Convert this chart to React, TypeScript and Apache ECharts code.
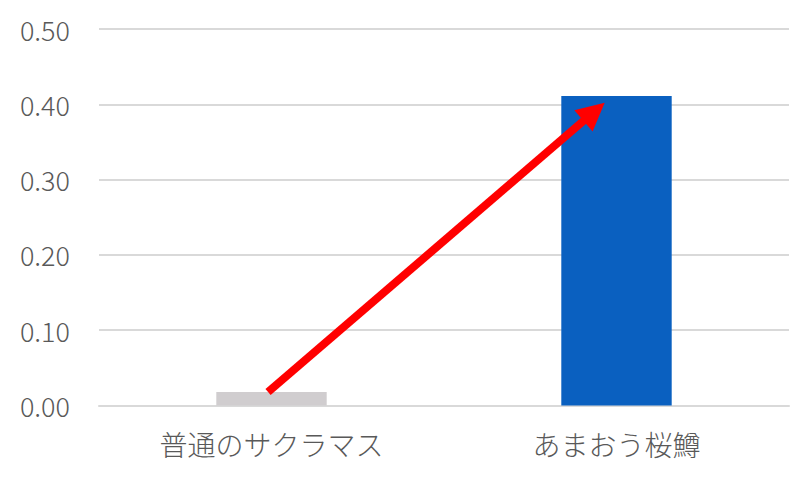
import React, { useEffect, useRef } from 'react';
import * as echarts from 'echarts';

// カテゴリと値
const categories = ['普通のサクラマス', 'あまおう桜鱒'];
const values = [0.018, 0.411];
const barColors = ['#D0CDCF', '#0A60C0'];

// 矢印の始点・終点（補助の数値軸 -0.5〜1.5 上の座標）
const arrowFrom = [-0.01, 0.018];
const arrowTo = [0.935, 0.39];

const App: React.FC = () => {
  const chartRef = useRef<HTMLDivElement>(null);

  useEffect(() => {
    document.body.style.margin = '0';
    if (!chartRef.current) return;

    const chartInstance = echarts.init(chartRef.current, undefined, { renderer: 'svg' });

    const font = '"Noto Sans CJK JP", "Noto Sans", sans-serif';

    const option = {
      animation: false,
      grid: {
        left: 99,
        right: 23,
        top: 29,
        bottom: 82.5,
        containLabel: false
      },
      xAxis: [
        {
          type: 'category',
          data: categories,
          axisTick: { show: false },
          axisLine: { lineStyle: { color: '#D9D9D9', width: 2 } },
          axisLabel: {
            color: '#595959',
            fontSize: 28,
            fontWeight: 300,
            fontFamily: font,
            margin: 24
          }
        },
        {
          type: 'value',
          min: -0.5,
          max: 1.5,
          show: false
        }
      ],
      yAxis: {
        type: 'value',
        min: 0,
        max: 0.5,
        interval: 0.1,
        axisLine: { show: false },
        axisTick: { show: false },
        splitLine: { lineStyle: { color: '#D9D9D9', width: 2 } },
        axisLabel: {
          color: '#595959',
          fontSize: 27,
          fontWeight: 300,
          fontFamily: font,
          margin: 29,
          formatter: (v: number) => v.toFixed(2)
        }
      },
      series: [
        {
          type: 'bar',
          barWidth: '32%',
          data: values.map((v, i) => ({ value: v, itemStyle: { color: barColors[i] } }))
        },
        {
          type: 'line',
          xAxisIndex: 1,
          data: [],
          silent: true,
          markLine: {
            silent: true,
            symbol: ['none', 'triangle'],
            symbolSize: [28, 28],
            label: { show: false },
            lineStyle: { color: '#FF0000', width: 8, type: 'solid' },
            itemStyle: { color: '#FF0000' },
            data: [[{ coord: arrowFrom }, { coord: arrowTo }]]
          }
        }
      ]
    };

    chartInstance.setOption(option);

    return () => {
      chartInstance.dispose();
    };
  }, []);

  return <div ref={chartRef} style={{ width: 812, height: 488 }} />;
};

export default App;
